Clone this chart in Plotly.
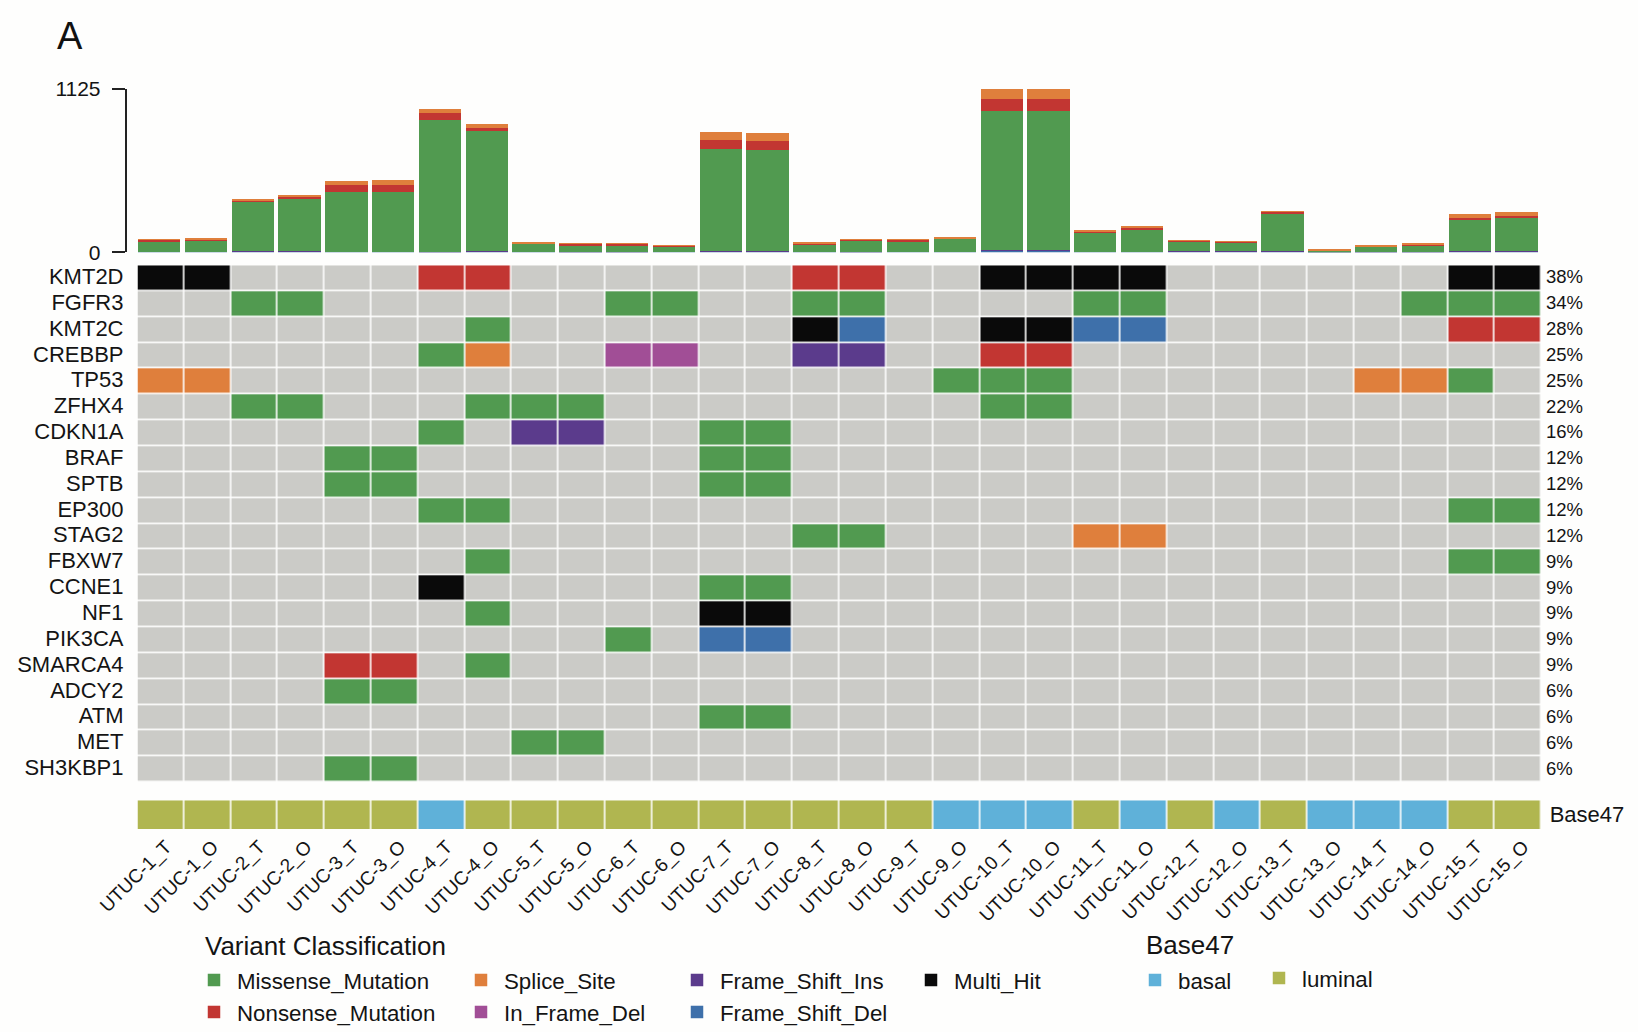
import plotly.graph_objects as go

W, H = 1638, 1032
FONT = "Liberation Sans"

samples = ["UTUC-1_T","UTUC-1_O","UTUC-2_T","UTUC-2_O","UTUC-3_T","UTUC-3_O","UTUC-4_T","UTUC-4_O",
           "UTUC-5_T","UTUC-5_O","UTUC-6_T","UTUC-6_O","UTUC-7_T","UTUC-7_O","UTUC-8_T","UTUC-8_O",
           "UTUC-9_T","UTUC-9_O","UTUC-10_T","UTUC-10_O","UTUC-11_T","UTUC-11_O","UTUC-12_T","UTUC-12_O",
           "UTUC-13_T","UTUC-13_O","UTUC-14_T","UTUC-14_O","UTUC-15_T","UTUC-15_O"]

frame_shift_del = [4,4,4,4,4,4,1,4,3,2,2,3,8,8,3,2,3,3,10,10,3,4,5,4,4,1,1,2,4,4]
frame_shift_ins = [1,1,2,3,1,1,1,4,2,1,1,1,3,3,1,2,1,1,5,5,1,1,5,3,2,1,1,1,3,3]
missense = [71,75,338,363,411,413,909,825,55,47,45,35,701,694,51,74,72,88,958,958,127,149,61,62,260,11,35,45,216,227]
nonsense = [9,10,14,16,46,46,48,25,3,8,10,9,60,62,9,10,9,6,85,85,14,14,7,5,12,2,6,9,16,14]
splice = [2,2,12,11,32,32,28,28,3,2,2,2,57,57,5,2,2,3,67,67,4,11,2,2,4,1,5,7,27,28]

genes = ["KMT2D","FGFR3","KMT2C","CREBBP","TP53","ZFHX4","CDKN1A","BRAF","SPTB","EP300",
         "STAG2","FBXW7","CCNE1","NF1","PIK3CA","SMARCA4","ADCY2","ATM","MET","SH3KBP1"]
percents = ["38%","34%","28%","25%","25%","22%","16%","12%","12%","12%",
            "12%","9%","9%","9%","9%","9%","6%","6%","6%","6%"]

# one letter per sample: . none, G missense, R nonsense, S splice, I in-frame del,
# P frame-shift ins, B frame-shift del, K multi hit
onco_rows = [
    "KK....RR......RR..KKKK......KK",
    "..GG......GG..GG....GG.....GGG",
    ".......G......KB..KKBB......RR",
    "......GS..II..PP..RR..........",
    "SS...............GGG......SSG.",
    "..GG...GGG........GG..........",
    "......G.PP..GG................",
    "....GG......GG................",
    "....GG......GG................",
    "......GG....................GG",
    "..............GG....SS........",
    ".......G....................GG",
    "......K.....GG................",
    ".......G....KK................",
    "..........G.BB................",
    "....RR.G......................",
    "....GG........................",
    "............GG................",
    "........GG....................",
    "....GG........................",
]
base47 = ["luminal"]*6 + ["basal"] + ["luminal"]*10 + ["basal"]*3 + ["luminal","basal","luminal","basal","luminal"] + ["basal"]*3 + ["luminal"]*2

classes = ["None","Missense_Mutation","Nonsense_Mutation","Splice_Site","In_Frame_Del","Frame_Shift_Ins","Frame_Shift_Del","Multi_Hit"]
class_colors = ["#CBCBC7","#519A50","#C23632","#DF7F3C","#A14E96","#5B3B8C","#3E70AA","#0A0A0A"]
letters = ".GRSIPBK"
subtype_colors = {"basal": "#5FB1D9", "luminal": "#B0B650"}

def px_x(v): return v / W
def px_y(v): return 1 - v / H

H_LEFT, H_RIGHT = 137.5, 1541.7
fig = go.Figure()

# stacked bars
for name, vals in [("Frame_Shift_Del", frame_shift_del), ("Frame_Shift_Ins", frame_shift_ins),
                   ("Missense_Mutation", missense), ("Nonsense_Mutation", nonsense), ("Splice_Site", splice)]:
    fig.add_trace(go.Bar(x=list(range(30)), y=vals, name=name, xaxis="x", yaxis="y", showlegend=False,
                         width=0.905, offset=-0.5,
                         marker=dict(color=class_colors[classes.index(name)], line=dict(width=0))))

# oncoplot matrix
n = len(classes)
stepped = []
for i, c in enumerate(class_colors):
    stepped += [[i / n, c], [(i + 1) / n, c]]
fig.add_trace(go.Heatmap(x=list(range(30)), y=genes, z=[[letters.index(ch) for ch in r] for r in onco_rows],
                         xaxis="x2", yaxis="y2", colorscale=stepped, zmin=0, zmax=n, showscale=False,
                         xgap=1.6, ygap=1.6))

# Base47 annotation strip
kinds = ["basal", "luminal"]
fig.add_trace(go.Heatmap(x=list(range(30)), y=["Base47"], z=[[kinds.index(b) for b in base47]],
                         xaxis="x3", yaxis="y3", showscale=False, zmin=0, zmax=1, xgap=1.6, ygap=0,
                         colorscale=[[0, subtype_colors["basal"]], [0.5, subtype_colors["basal"]],
                                     [0.5, subtype_colors["luminal"]], [1, subtype_colors["luminal"]]]))

# legend entries, one legend per column
legend_cols = [("legend", ["Missense_Mutation", "Nonsense_Mutation"]), ("legend2", ["Splice_Site", "In_Frame_Del"]),
               ("legend3", ["Frame_Shift_Ins", "Frame_Shift_Del"]), ("legend4", ["Multi_Hit"])]
for lg, names in legend_cols:
    for nm in names:
        fig.add_trace(go.Scatter(x=[None], y=[None], mode="markers", name=nm, legend=lg, xaxis="x", yaxis="y",
                                 marker=dict(symbol="square", size=12.5, color=class_colors[classes.index(nm)])))
for lg, nm in [("legend5", "basal"), ("legend6", "luminal")]:
    fig.add_trace(go.Scatter(x=[None], y=[None], mode="markers", name=nm, legend=lg, xaxis="x", yaxis="y",
                             marker=dict(symbol="square", size=12.5, color=subtype_colors[nm])))

text_col = "#141414"
lg_font = dict(family=FONT, size=22.3, color=text_col)
def lg(x, y):
    return dict(x=px_x(x), y=px_y(y), xanchor="left", yanchor="top", bgcolor="rgba(0,0,0,0)", borderwidth=0,
                font=lg_font, itemsizing="trace", itemwidth=36, itemclick=False, itemdoubleclick=False,
                traceorder="normal")

common_x = dict(range=[-0.5, 29.5], domain=[px_x(H_LEFT), px_x(H_RIGHT)], showgrid=False, zeroline=False, fixedrange=True)
fig.update_layout(
    width=W, height=H, autosize=False, margin=dict(l=0, r=0, t=0, b=0, autoexpand=False),
    paper_bgcolor="#FEFEFD", plot_bgcolor="rgba(0,0,0,0)", barmode="stack", bargap=0,
    font=dict(family=FONT, color=text_col, size=20),
    xaxis=dict(common_x, visible=False, anchor="y"),
    yaxis=dict(domain=[px_y(252.3), px_y(89)], range=[0, 1125], anchor="free", position=px_x(125.5),
               tickvals=[0, 1125], ticks="outside", ticklen=13, tickwidth=1.5, tickcolor="#222",
               showline=True, linecolor="#222", linewidth=1.5, showgrid=False, zeroline=False,
               ticklabelstandoff=7, tickfont=dict(size=21, family=FONT)),
    xaxis2=dict(common_x, visible=False, anchor="y2"),
    yaxis2=dict(domain=[px_y(783.5), px_y(265.3)], anchor="x2", autorange="reversed", type="category",
                categoryorder="array", categoryarray=genes, tickmode="array", tickvals=genes, ticktext=genes,
                ticks="", showgrid=False, zeroline=False, showline=False,
                tickfont=dict(size=22, family=FONT), ticklabelstandoff=13, ticklabelshift=2),
    xaxis3=dict(common_x, anchor="y3", tickmode="array", tickvals=list(range(30)), ticktext=samples, tickangle=-45,
                ticks="", showline=False, tickfont=dict(size=19, family=FONT), ticklabelshift=5, ticklabelstandoff=2),
    yaxis3=dict(domain=[px_y(829), px_y(800.3)], anchor="x3", side="right", type="category", ticks="",
                showgrid=False, zeroline=False, showline=False, tickfont=dict(size=22, family=FONT),
                ticklabelstandoff=7),
    legend=lg(191, 959),
    legend2=lg(458, 959),
    legend3=lg(674, 959),
    legend4=lg(908, 959),
    legend5=lg(1132, 959),
    legend6=lg(1256, 957),
    annotations=[dict(text="A", xref="paper", yref="paper", x=px_x(55), y=px_y(36), xanchor="left", yanchor="middle",
                      showarrow=False, font=dict(family=FONT, size=38, color="#111")),
                 dict(text="Variant Classification", xref="paper", yref="paper", x=px_x(202.5), y=px_y(945.5),
                      xanchor="left", yanchor="middle", showarrow=False, font=dict(family=FONT, size=26, color=text_col)),
                 dict(text="Base47", xref="paper", yref="paper", x=px_x(1143.5), y=px_y(944.5),
                      xanchor="left", yanchor="middle", showarrow=False, font=dict(family=FONT, size=26, color=text_col))] + [
        dict(text=p, xref="x2", yref="y2", x=29.5, y=g, xanchor="left", yanchor="middle", xshift=2, yshift=1.5,
             showarrow=False, font=dict(family=FONT, size=18.5, color=text_col)) for g, p in zip(genes, percents)],
)

fig.write_html("out.html", config={"displayModeBar": False},
               post_script="document.body.style.margin='0';document.body.style.overflow='hidden';")
